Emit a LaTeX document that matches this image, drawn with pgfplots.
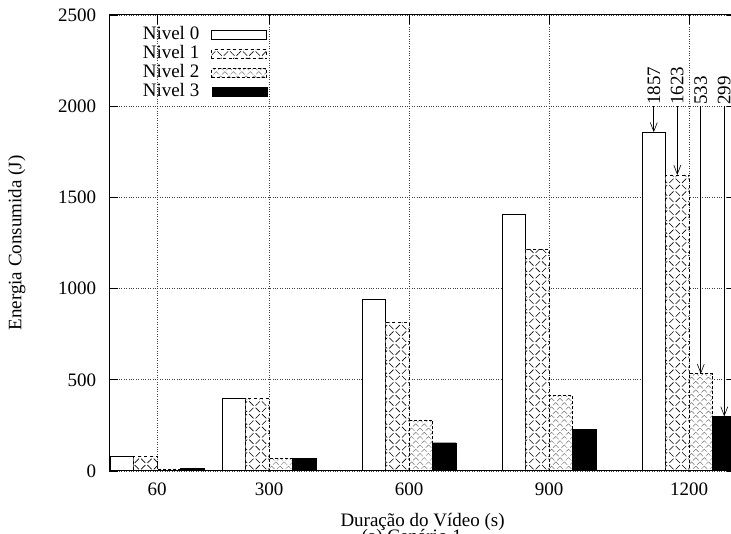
\documentclass[border=0pt]{standalone}
\usepackage{fontspec}
\setmainfont{Liberation Serif}
\usepackage{pgfplots}
\pgfplotsset{compat=1.18}
\usepackage{pgfplotstable}
\usetikzlibrary{patterns,patterns.meta,arrows.meta}
\pgfplotstableread{
x n0 n1 n2 n3
60 80 79 11 15
300 397 396 68 70
600 940 815 278 155
900 1404 1216 412 228
1200 1857 1623 533 299
}\datatable
\pgfplotsset{boxleg/.style={legend image code/.code={\draw[##1] (0pt,-4.5pt) rectangle (55pt,4.5pt);}}}
\begin{document}
\begin{tikzpicture}[font=\fontsize{19}{22}\selectfont]
\path[use as bounding box] (0pt,0pt) rectangle (731pt,534pt);
\clip (0pt,0pt) rectangle (731pt,534pt);
\begin{axis}[
  at={(109.4pt,63pt)}, anchor=south west,
  scale only axis, width=626.3pt, height=456pt,
  xmin=-42, xmax=1300, ymin=0, ymax=2500,
  ybar=0pt, bar width=23.5pt,
  xtick={60,300,600,900,1200},
  ytick={0,500,...,2500},
  /pgf/number format/1000 sep={},
  /pgf/number format/assume math mode=true,
  tick align=inside, major tick length=9pt,
  tick style={black, line width=0.8pt},
  axis line style={black, line width=1pt},
  grid=major, grid style={dotted, black!75, line width=0.8pt},
  xlabel={Duração do Vídeo (s)}, ylabel={Energia Consumida (J)},
  xlabel style={at={(axis description cs:0.5,-0.1228)}, anchor=base},
  ylabel style={at={(axis description cs:-0.1477,0.5)}, anchor=center},
  x tick label style={anchor=base, yshift=-25pt},
  y tick label style={anchor=east, inner sep=0pt, xshift=-13pt},
  legend plot pos=right, legend cell align=right,
  legend style={at={(0.053,0.975)}, anchor=north west, draw=none, fill=none, inner sep=0pt, column sep=12pt, row sep=2pt, nodes={inner sep=0pt, text height=13pt, text depth=4pt}},
]
\addplot[draw=black, line width=0.9pt, fill=white, boxleg] table[x=x,y=n0]{\datatable};
\addplot[draw=black, dashed, line width=0.8pt, fill=white, postaction={pattern={Hatch[angle=45,distance=9pt,line width=0.6pt]}}, boxleg] table[x=x,y=n1]{\datatable};
\addplot[draw=black, densely dashed, line width=0.8pt, fill=white, postaction={pattern={Hatch[angle=45,distance=6pt,line width=0.5pt]}, pattern color=black!55}, boxleg] table[x=x,y=n2]{\datatable};
\addplot[draw=black, fill=black, boxleg] table[x=x,y=n3]{\datatable};
\legend{Nivel 0, Nivel 1, Nivel 2, Nivel 3}
\draw[black, line width=1pt] (rel axis cs:0,0) -- (rel axis cs:1,0);
\draw[-{Straight Barb[length=9pt,width=7pt]}, line width=0.6pt] ([xshift=-35.25pt]axis cs:1200,2000) -- ([xshift=-35.25pt]axis cs:1200,1857);
\draw[-{Straight Barb[length=9pt,width=7pt]}, line width=0.6pt] ([xshift=-11.75pt]axis cs:1200,2000) -- ([xshift=-11.75pt]axis cs:1200,1623);
\draw[-{Straight Barb[length=9pt,width=7pt]}, line width=0.6pt] ([xshift=11.75pt]axis cs:1200,2000) -- ([xshift=11.75pt]axis cs:1200,533);
\draw[-{Straight Barb[length=9pt,width=7pt]}, line width=0.6pt] ([xshift=35.25pt]axis cs:1200,2000) -- ([xshift=35.25pt]axis cs:1200,299);
\node[rotate=90, anchor=west, inner sep=1pt] at ([xshift=-35.25pt]axis cs:1200,2000) {1857};
\node[rotate=90, anchor=west, inner sep=1pt] at ([xshift=-11.75pt]axis cs:1200,2000) {1623};
\node[rotate=90, anchor=west, inner sep=1pt] at ([xshift=11.75pt]axis cs:1200,2000) {533};
\node[rotate=90, anchor=west, inner sep=1pt] at ([xshift=35.25pt]axis cs:1200,2000) {299};
\end{axis}
\node[anchor=base west] at (358pt,-8.5pt) {(a) Cenário 1};
\end{tikzpicture}
\end{document}
